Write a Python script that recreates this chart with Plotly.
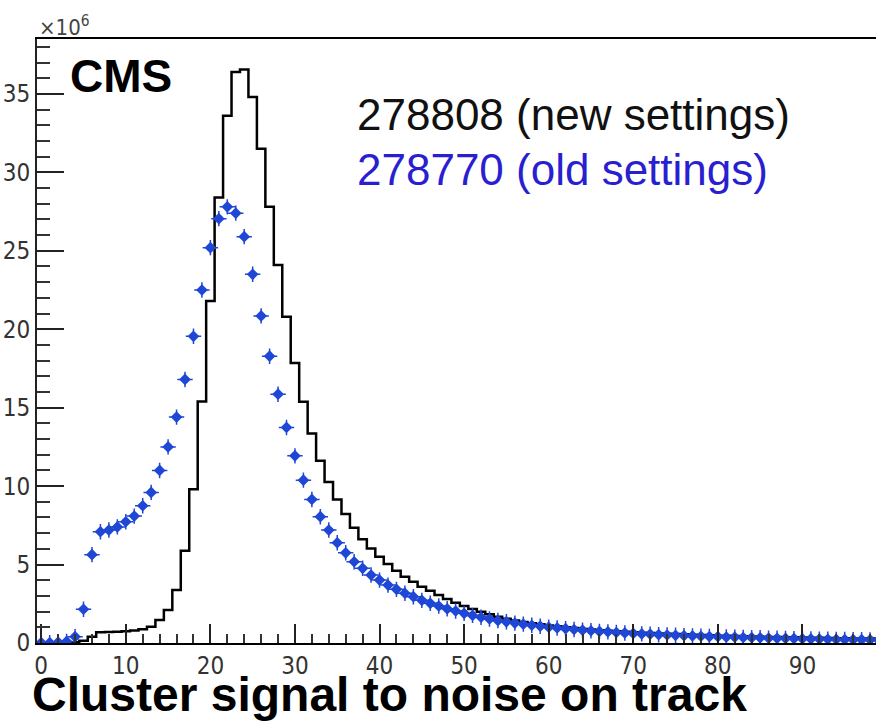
import plotly.graph_objects as go

# Cluster signal-to-noise bins (bin centres, width 1)
sn_bins = list(range(100))

# Run 278808 (new settings), entries per bin in units of 1e6
new_settings = [
    0.0, 0.0, 0.0, 0.02, 0.05, 0.15, 0.40, 0.68, 0.70, 0.72,
    0.75, 0.80, 0.88, 1.04, 1.46, 2.10, 3.38, 5.88, 9.80, 15.40,
    21.80, 28.40, 33.60, 36.40, 36.55, 34.80, 31.50, 27.80, 24.10, 20.80,
    17.85, 15.37, 13.36, 11.61, 10.27, 9.15, 8.22, 7.35, 6.62, 6.03,
    5.50, 5.03, 4.61, 4.22, 3.90, 3.59, 3.33, 3.06, 2.80, 2.57,
    2.36, 2.17, 1.99, 1.83, 1.68, 1.55, 1.43, 1.34, 1.26, 1.19,
    1.12, 1.06, 1.00, 0.95, 0.90, 0.86, 0.82, 0.78, 0.75, 0.72,
    0.69, 0.66, 0.63, 0.61, 0.59, 0.57, 0.55, 0.53, 0.51, 0.49,
    0.47, 0.46, 0.44, 0.43, 0.41, 0.40, 0.39, 0.38, 0.37, 0.36,
    0.35, 0.34, 0.33, 0.32, 0.31, 0.30, 0.29, 0.28, 0.28, 0.27,
]

# Run 278770 (old settings), entries per bin in units of 1e6
old_settings = [
    0.02, 0.02, 0.05, 0.10, 0.40, 2.15, 5.63, 7.09, 7.20, 7.40,
    7.73, 8.09, 8.75, 9.60, 11.00, 12.50, 14.40, 16.80, 19.55, 22.50,
    25.20, 27.05, 27.80, 27.40, 25.90, 23.50, 20.85, 18.28, 15.86, 13.74,
    11.93, 10.38, 9.15, 8.05, 7.20, 6.39, 5.75, 5.18, 4.76, 4.33,
    4.01, 3.69, 3.42, 3.17, 2.95, 2.72, 2.53, 2.36, 2.18, 2.04,
    1.89, 1.76, 1.64, 1.53, 1.43, 1.35, 1.27, 1.20, 1.13, 1.07,
    1.01, 0.96, 0.91, 0.86, 0.82, 0.78, 0.74, 0.71, 0.67, 0.64,
    0.61, 0.58, 0.56, 0.53, 0.51, 0.49, 0.47, 0.45, 0.43, 0.41,
    0.40, 0.38, 0.37, 0.35, 0.34, 0.33, 0.31, 0.30, 0.29, 0.28,
    0.27, 0.26, 0.25, 0.24, 0.23, 0.22, 0.21, 0.21, 0.20, 0.19,
]

x_ticks = [0, 10, 20, 30, 40, 50, 60, 70, 80, 90]
y_ticks = [0, 5, 10, 15, 20, 25, 30, 35]

legend_new = "278808 (new settings)"
legend_old = "278770 (old settings)"

BLUE = "#1f47d6"
TEXT_BLUE = "#2a1fd0"
NARROW = "Liberation Sans Narrow, DejaVu Sans Condensed, Arial Narrow, sans-serif"
SANS = "Liberation Sans, Arial, Helvetica, sans-serif"

# step outline: each bin drawn from its lower edge to its upper edge
edges = [b - 0.5 for b in sn_bins] + [sn_bins[-1] + 0.5]
step_y = new_settings + [new_settings[-1]]

fig = go.Figure()
fig.add_trace(go.Scatter(
    x=edges, y=step_y, mode="lines", line_shape="hv",
    line=dict(color="black", width=2.5), hoverinfo="skip", showlegend=False,
))
fig.add_trace(go.Scatter(
    x=sn_bins, y=old_settings, mode="markers",
    marker=dict(symbol="cross-thin", size=11, line=dict(color=BLUE, width=1.5)),
    hoverinfo="skip", showlegend=False,
))
fig.add_trace(go.Scatter(
    x=sn_bins, y=old_settings, mode="markers",
    marker=dict(symbol="diamond", size=9, color=BLUE),
    showlegend=False,
))

fig.update_layout(
    width=876, height=723,
    margin=dict(l=37, r=0, t=39, b=80),
    paper_bgcolor="white", plot_bgcolor="white",
    showlegend=False,
    xaxis=dict(
        range=[-0.5, 98.7], tickvals=x_ticks, ticks="inside", ticklen=19,
        tickwidth=2, tickcolor="#222", showline=True, linecolor="black",
        linewidth=2, mirror=True, showgrid=False, zeroline=False,
        tickfont=dict(family=NARROW, size=24, color="#333"),
        minor=dict(dtick=2, ticks="inside", ticklen=9, tickwidth=1.5,
                   tickcolor="#333", showgrid=False),
    ),
    yaxis=dict(
        range=[0, 38.5], tickvals=y_ticks, ticks="inside", ticklen=27,
        tickwidth=2, tickcolor="#222", showline=True, linecolor="#222",
        linewidth=2, showgrid=False, zeroline=False,
        tickfont=dict(family=NARROW, size=24, color="#333"),
        minor=dict(dtick=1, ticks="inside", ticklen=13, tickwidth=2,
                   tickcolor="#333", showgrid=False),
    ),
)

annotations = [
    dict(text="×10<sup>6</sup>", x=0.0, y=0.995, xanchor="left", yanchor="bottom",
         font=dict(family=NARROW, size=22, color="#444")),
    dict(text="<b>CMS</b>", x=0.037, y=0.939, xanchor="left", yanchor="middle",
         font=dict(family=SANS, size=46, color="black")),
    dict(text=legend_new, x=0.379, y=0.875, xanchor="left", yanchor="middle",
         font=dict(family=SANS, size=44, color="#111")),
    dict(text=legend_old, x=0.379, y=0.784, xanchor="left", yanchor="middle",
         font=dict(family=SANS, size=44, color=TEXT_BLUE)),
    dict(text="<b>Cluster signal to noise on track</b>", x=-0.008, y=-0.085,
         xanchor="left", yanchor="middle",
         font=dict(family=SANS, size=48, color="black")),
]
for a in annotations:
    fig.add_annotation(xref="paper", yref="paper", showarrow=False, **a)

fig.write_html("out.html")
